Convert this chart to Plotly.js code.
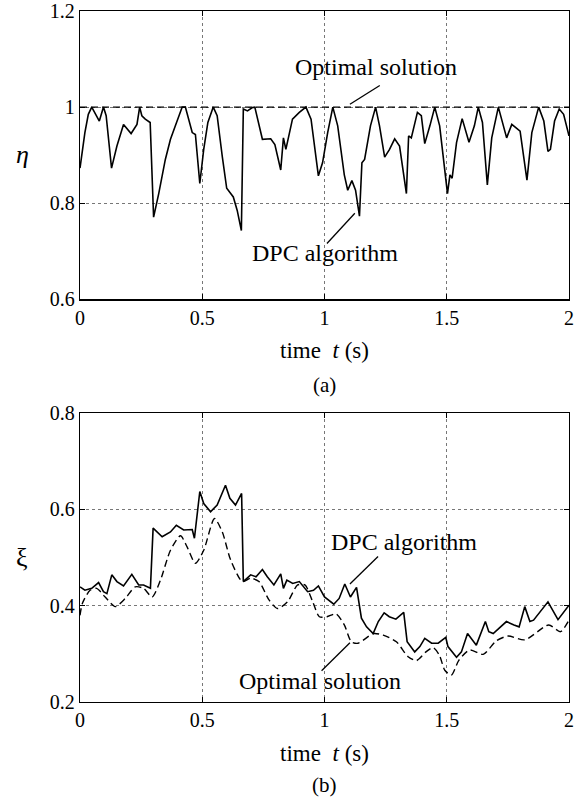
<!DOCTYPE html>
<html>
<head>
<meta charset="utf-8">
<script src="https://cdn.plot.ly/plotly-3.0.1.min.js"></script>
<style>html,body{margin:0;padding:0;background:#fff;}#plot{width:582px;height:804px;}</style>
</head>
<body>
<div id="plot"></div>
<script>
// ---- Panel (a): efficiency eta ----
const tEta = [0, 0.02, 0.034, 0.048, 0.079, 0.096, 0.107, 0.129, 0.151, 0.178,
  0.209, 0.233, 0.244, 0.253, 0.267, 0.287, 0.301, 0.322, 0.349, 0.37,
  0.39, 0.418, 0.431, 0.459, 0.472, 0.49, 0.506, 0.523, 0.545, 0.561,
  0.582, 0.6, 0.627, 0.643, 0.66, 0.668, 0.685, 0.705, 0.715, 0.746,
  0.78, 0.797, 0.821, 0.832, 0.842, 0.869, 0.897, 0.924, 0.945, 0.975,
  0.992, 1.013, 1.034, 1.054, 1.081, 1.095, 1.112, 1.127, 1.143, 1.153,
  1.164, 1.188, 1.209, 1.225, 1.246, 1.266, 1.287, 1.307, 1.335, 1.344,
  1.355, 1.38, 1.396, 1.41, 1.431, 1.451, 1.471, 1.503, 1.513, 1.522,
  1.54, 1.563, 1.591, 1.613, 1.629, 1.646, 1.666, 1.684, 1.711, 1.725,
  1.745, 1.766, 1.8, 1.828, 1.848, 1.876, 1.897, 1.914, 1.924, 1.941,
  1.96, 1.978, 2.0];
const etaDPC = [0.873, 0.947, 0.985, 1.0, 0.971, 1.0, 0.982, 0.873, 0.919, 0.964,
  0.945, 0.964, 1.0, 0.982, 0.975, 0.968, 0.771, 0.82, 0.891, 0.933,
  0.961, 1.0, 1.0, 0.947, 0.943, 0.841, 0.912, 0.968, 1.0, 0.982,
  0.897, 0.831, 0.813, 0.785, 0.743, 0.996, 0.992, 0.999, 1.0, 0.933,
  0.934, 0.922, 0.869, 0.936, 0.912, 0.975, 0.989, 1.0, 0.975, 0.857,
  0.884, 0.947, 1.0, 0.961, 0.859, 0.827, 0.847, 0.827, 0.773, 0.884,
  0.891, 0.961, 1.0, 0.961, 0.896, 0.912, 0.934, 0.919, 0.82, 0.94,
  0.936, 0.989, 0.982, 0.924, 0.961, 1.0, 0.961, 0.82, 0.859, 0.852,
  0.926, 0.976, 0.927, 0.961, 1.0, 0.968, 0.838, 0.936, 1.0, 0.971,
  0.936, 0.964, 0.95, 0.848, 0.947, 1.0, 0.971, 0.908, 0.912, 0.971,
  0.996, 0.985, 0.94];
const tEtaOpt = [0, 2];
const etaOpt = [1, 1];

// ---- Panel (b): xi ----
const tXiDPC = [0, 0.02, 0.048, 0.076, 0.096, 0.11, 0.13, 0.151, 0.178, 0.212,
  0.24, 0.26, 0.288, 0.299, 0.336, 0.37, 0.394, 0.424, 0.459, 0.468,
  0.49, 0.506, 0.534, 0.561, 0.595, 0.613, 0.636, 0.661, 0.668, 0.698,
  0.72, 0.746, 0.766, 0.793, 0.821, 0.832, 0.846, 0.87, 0.897, 0.931,
  0.955, 0.975, 1.0, 1.038, 1.06, 1.083, 1.106, 1.131, 1.151, 1.172,
  1.199, 1.22, 1.244, 1.265, 1.292, 1.324, 1.338, 1.369, 1.39, 1.41,
  1.438, 1.465, 1.496, 1.505, 1.54, 1.56, 1.585, 1.621, 1.658, 1.672,
  1.69, 1.744, 1.775, 1.796, 1.819, 1.84, 1.855, 1.914, 1.955, 1.975,
  2.0];
const xiDPC = [0.439, 0.432, 0.436, 0.448, 0.429, 0.425, 0.464, 0.45, 0.441, 0.465,
  0.443, 0.443, 0.436, 0.561, 0.543, 0.553, 0.567, 0.557, 0.558, 0.54,
  0.637, 0.612, 0.595, 0.609, 0.65, 0.623, 0.609, 0.633, 0.45, 0.464,
  0.46, 0.475, 0.46, 0.443, 0.466, 0.436, 0.453, 0.446, 0.45, 0.429,
  0.432, 0.441, 0.418, 0.403, 0.415, 0.445, 0.418, 0.438, 0.374, 0.356,
  0.342, 0.367, 0.385, 0.377, 0.372, 0.386, 0.325, 0.304, 0.315, 0.332,
  0.322, 0.322, 0.334, 0.315, 0.293, 0.304, 0.342, 0.318, 0.367, 0.346,
  0.342, 0.367, 0.36, 0.356, 0.398, 0.367, 0.37, 0.408, 0.371, 0.384,
  0.401];
const tXiOpt = [0, 0.01, 0.041, 0.068, 0.103, 0.144, 0.185, 0.226, 0.26, 0.295,
  0.329, 0.37, 0.411, 0.438, 0.472, 0.506, 0.55, 0.582, 0.616, 0.664,
  0.698, 0.732, 0.773, 0.808, 0.849, 0.89, 0.92, 0.952, 0.979, 1.01,
  1.047, 1.081, 1.11, 1.138, 1.199, 1.24, 1.294, 1.342, 1.376, 1.415,
  1.444, 1.47, 1.492, 1.519, 1.55, 1.594, 1.649, 1.703, 1.751, 1.819,
  1.917, 1.965, 2.0];
const xiOpt = [0.38, 0.405, 0.432, 0.436, 0.418, 0.398, 0.415, 0.439, 0.436, 0.418,
  0.453, 0.515, 0.545, 0.522, 0.488, 0.515, 0.581, 0.553, 0.495, 0.45,
  0.457, 0.45, 0.412, 0.394, 0.408, 0.443, 0.443, 0.408, 0.377, 0.377,
  0.383, 0.36, 0.325, 0.322, 0.342, 0.339, 0.325, 0.294, 0.286, 0.304,
  0.313, 0.297, 0.266, 0.256, 0.287, 0.308, 0.299, 0.327, 0.337, 0.329,
  0.36, 0.346, 0.37];

const xTickVals = [0, 0.5, 1, 1.5, 2];
const xTickText = ['0', '0.5', '1', '1.5', '2'];
const etaTickVals = [0.6, 0.8, 1, 1.2];
const etaTickText = ['0.6', '0.8', '1', '1.2'];
const xiTickVals = [0.2, 0.4, 0.6, 0.8];
const xiTickText = ['0.2', '0.4', '0.6', '0.8'];

const FONT = 'Liberation Serif, Times New Roman, serif';
const W = 582, H = 804, ML = 80, MR = 13, MT = 11, MB = 102;
const PH = H - MT - MB, PW = W - ML - MR;
function py(p) { return (H - MB - p) / PH; } // pixel row -> paper fraction
function px(p) { return (p - ML) / PW; }      // pixel column -> paper fraction

const solid = {color: '#000', width: 1.6};
const dashed = {color: '#000', width: 1.4, dash: '7px,4px'};

const traces = [
  {x: tEtaOpt, y: etaOpt, xaxis: 'x', yaxis: 'y', mode: 'lines', line: dashed, name: 'Optimal solution'},
  {x: tEta, y: etaDPC, xaxis: 'x', yaxis: 'y', mode: 'lines', line: solid, name: 'DPC algorithm'},
  {x: tXiOpt, y: xiOpt, xaxis: 'x2', yaxis: 'y2', mode: 'lines',
   line: Object.assign({shape: 'spline', smoothing: 0.7}, dashed), name: 'Optimal solution'},
  {x: tXiDPC, y: xiDPC, xaxis: 'x2', yaxis: 'y2', mode: 'lines', line: solid, name: 'DPC algorithm'}
];

function xAx(anchor) {
  return {
    anchor: anchor, domain: [0, 1], range: [0, 2], tickvals: xTickVals, ticktext: xTickText,
    showline: true, linecolor: '#000', linewidth: 1.3, mirror: 'ticks',
    ticks: 'inside', ticklen: 5, tickcolor: '#000', tickwidth: 1,
    showgrid: true, gridcolor: '#777', gridwidth: 1, griddash: 'dot', zeroline: false,
    tickfont: {family: FONT, size: 20, color: '#000'},
    title: {text: 'time  <i>t</i> (s)', font: {family: FONT, size: 23, color: '#000'}, standoff: 14},
    automargin: false
  };
}
function yAx(anchor, domain, range, tv, tt) {
  return {
    anchor: anchor, domain: domain, range: range, tickvals: tv, ticktext: tt,
    showline: true, linecolor: '#000', linewidth: 1.3, mirror: 'ticks',
    ticks: 'inside', ticklen: 5, tickcolor: '#000', tickwidth: 1,
    showgrid: true, gridcolor: '#777', gridwidth: 1, griddash: 'dot', zeroline: false,
    tickfont: {family: FONT, size: 20, color: '#000'},
    automargin: false
  };
}

const annFont = {family: FONT, size: 24, color: '#000'};
const layout = {
  width: W, height: H,
  margin: {l: ML, r: MR, t: MT, b: MB},
  paper_bgcolor: '#fff', plot_bgcolor: '#fff',
  showlegend: false,
  xaxis: xAx('y'),
  yaxis: yAx('x', [py(299.3), 1], [0.6, 1.2], etaTickVals, etaTickText),
  xaxis2: xAx('y2'),
  yaxis2: yAx('x2', [0, py(413)], [0.2, 0.8], xiTickVals, xiTickText),
  annotations: [
    {xref: 'paper', yref: 'paper', x: px(22), y: py(155), text: '<i>η</i>', showarrow: false, xanchor: 'center', yanchor: 'middle', font: {family: FONT, size: 26, color: '#000'}},
    {xref: 'paper', yref: 'paper', x: px(22), y: py(557), text: 'ξ', showarrow: false, xanchor: 'center', yanchor: 'middle', font: {family: FONT, size: 26, color: '#000'}},
    {xref: 'x', yref: 'y', x: 1.212, y: 1.083, text: 'Optimal solution', showarrow: false, font: annFont},
    {xref: 'x', yref: 'y', x: 1.003, y: 0.696, text: 'DPC algorithm', showarrow: false, font: annFont},
    {xref: 'x2', yref: 'y2', x: 1.324, y: 0.533, text: 'DPC algorithm', showarrow: false, font: annFont},
    {xref: 'x2', yref: 'y2', x: 0.981, y: 0.243, text: 'Optimal solution', showarrow: false, font: annFont},
    {xref: 'paper', yref: 'paper', x: 0.5, y: py(385), text: '(a)', showarrow: false, yanchor: 'middle', font: {family: FONT, size: 21, color: '#000'}},
    {xref: 'paper', yref: 'paper', x: 0.5, y: py(785), text: '(b)', showarrow: false, yanchor: 'middle', font: {family: FONT, size: 21, color: '#000'}}
  ],
  shapes: [
    {type: 'line', xref: 'x', yref: 'y', x0: 1.104, y0: 1.006, x1: 1.226, y1: 1.045, line: {color: '#000', width: 1.3}},
    {type: 'line', xref: 'x', yref: 'y', x0: 1.01, y0: 0.716, x1: 1.124, y1: 0.779, line: {color: '#000', width: 1.3}},
    {type: 'line', xref: 'x2', yref: 'y2', x0: 1.104, y0: 0.445, x1: 1.219, y1: 0.502, line: {color: '#000', width: 1.3}},
    {type: 'line', xref: 'x2', yref: 'y2', x0: 0.988, y0: 0.265, x1: 1.104, y1: 0.323, line: {color: '#000', width: 1.3}}
  ]
};

Plotly.newPlot('plot', traces, layout, {staticPlot: true, displayModeBar: false});
</script>
</body>
</html>
